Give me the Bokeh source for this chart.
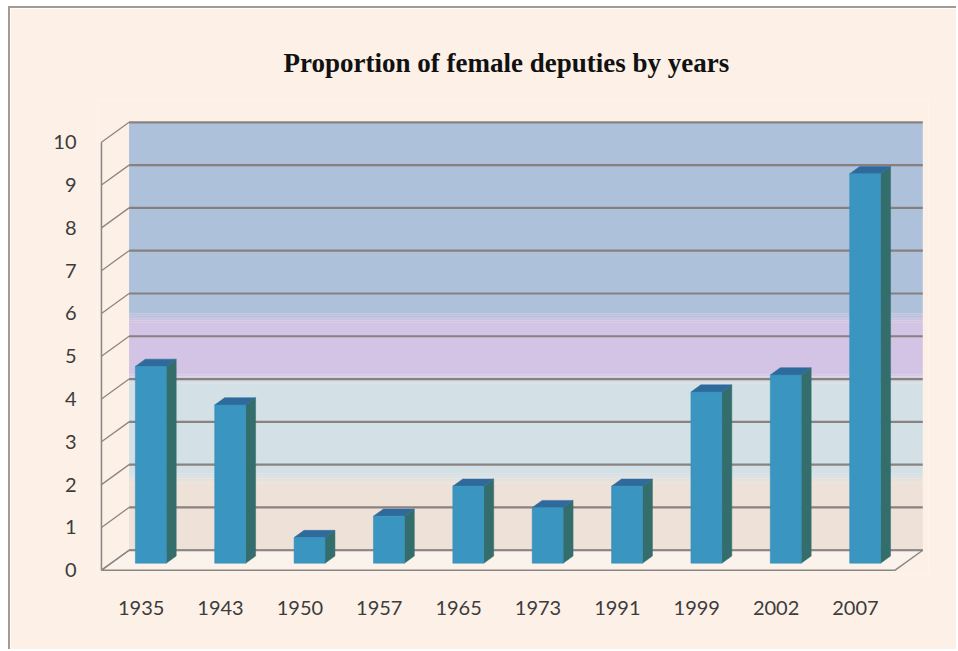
from bokeh.plotting import figure
from bokeh.models import FixedTicker, Range1d
from bokeh.embed import file_html
from bokeh.resources import INLINE

# ---------------- data ----------------
years = ["1935", "1943", "1950", "1957", "1965", "1973", "1991", "1999", "2002", "2007"]
shares = [4.6, 3.7, 0.6, 1.1, 1.8, 1.3, 1.8, 4.0, 4.4, 9.1]
y_ticks = [0, 1, 2, 3, 4, 5, 6, 7, 8, 9, 10]
title_text = "Proportion of female deputies by years"

# ---------------- styling ----------------
BG = "#FDF0E7"
DX, DY = 0.3476, 0.467          # depth offset of the back wall (data units)
BAR_Z, BAR_DEPTH, BAR_W = 0.35, 0.36, 0.39
FRONT, SIDE, TOP = "#3A96C0", "#336E6C", "#2E6A9C"
GRID = "#857C7A"
WALL_LINE = "#8C8683"
TEXT = "#3C3C3C"
# wall colour bands (value on back wall, colour)
band_edges = [0.0, 1.68, 4.02, 5.45, 10.0]
band_colors = ["#EEE1D8", "#D3E1E7", "#D3C3E4", "#AEC1DA"]

n = len(years)
wall_top = y_ticks[-1]


def hex2rgb(h):
    h = h.lstrip("#")
    return [int(h[i:i + 2], 16) for i in (0, 2, 4)]


def mix(a, b, t):
    ca, cb = hex2rgb(a), hex2rgb(b)
    return "#%02X%02X%02X" % tuple(int(round(ca[i] + (cb[i] - ca[i]) * t)) for i in range(3))


p = figure(width=948, height=643, output_backend="svg", toolbar_location=None,
           x_range=Range1d(-0.05, n + 0.42), y_range=Range1d(-0.1, 11.0),
           min_border_left=87, min_border_right=30, min_border_top=91, min_border_bottom=77,
           background_fill_color=BG, border_fill_color=BG, outline_line_color=None,
           title=title_text)
p.styles = {"margin-left": "8px", "margin-top": "6px",
            "border-left": "2px solid #A39A94", "border-top": "2px solid #A39A94"}

p.title.text_font = "Liberation Serif"
p.title.text_font_style = "bold"
p.title.text_font_size = "27px"
p.title.text_color = "#111111"
p.title.align = "left"
p.title.offset = 186
p.title.standoff = 43

p.xgrid.visible = False
p.ygrid.visible = False

# floor
fx = [0, n, n + DX, DX]
fy = [0, 0, DY, DY]
p.patch(fx, fy, fill_color="#FBF2EB", line_color=None)

# back wall bands with soft transitions
blend = 0.12
steps = 6
for i, c in enumerate(band_colors):
    b = band_edges[i] + (blend if i > 0 else 0)
    t = band_edges[i + 1] - (blend if i < len(band_colors) - 1 else 0)
    p.quad(left=DX, right=n + DX, bottom=b + DY, top=t + DY, fill_color=c, line_color=None)
for i in range(1, len(band_colors)):
    e = band_edges[i]
    lo, hi = band_colors[i - 1], band_colors[i]
    h = 2 * blend / steps
    for s in range(steps):
        p.quad(left=DX, right=n + DX, bottom=e - blend + s * h + DY, top=e - blend + (s + 1) * h + DY,
               fill_color=mix(lo, hi, (s + 0.5) / steps), line_color=None)

# back wall grid lines
p.segment(x0=[DX] * len(y_ticks), y0=[k + DY for k in y_ticks],
          x1=[n + DX] * len(y_ticks), y1=[k + DY for k in y_ticks],
          line_color=GRID, line_width=2.2, line_alpha=0.95)
# left wall
p.segment(x0=[0] * len(y_ticks), y0=y_ticks, x1=[DX] * len(y_ticks), y1=[k + DY for k in y_ticks],
          line_color=WALL_LINE, line_width=1.3)
p.segment(x0=[0], y0=[0], x1=[0], y1=[wall_top], line_color=WALL_LINE, line_width=1.5)
# floor outline
p.patch(fx, fy, fill_color=None, line_color=WALL_LINE, line_width=1.5)

# bars (front, side, top faces)
lefts = [i + 0.5 + BAR_Z * DX - BAR_W / 2 for i in range(n)]
rights = [l + BAR_W for l in lefts]
base = BAR_Z * DY
tops = [v + base for v in shares]
ddx, ddy = BAR_DEPTH * DX, BAR_DEPTH * DY
side_xs = [[r, r + ddx, r + ddx, r] for r in rights]
side_ys = [[base, base + ddy, t + ddy, t] for t in tops]
top_xs = [[l, r, r + ddx, l + ddx] for l, r in zip(lefts, rights)]
top_ys = [[t, t, t + ddy, t + ddy] for t in tops]
p.patches(side_xs, side_ys, fill_color=SIDE, line_color=SIDE, line_width=0.5)
p.patches(top_xs, top_ys, fill_color=TOP, line_color=TOP, line_width=0.5)
p.quad(left=lefts, right=rights, bottom=base, top=tops, fill_color=FRONT, line_color="#358DB6", line_width=0.5)

# axes
x_ticks = [i + 0.5 for i in range(n)]
p.xaxis.ticker = FixedTicker(ticks=x_ticks)
p.xaxis.major_label_overrides = {t: y for t, y in zip(x_ticks, years)}
p.yaxis.ticker = FixedTicker(ticks=y_ticks)
for ax in (p.xaxis, p.yaxis):
    ax.axis_line_color = None
    ax.major_tick_line_color = None
    ax.minor_tick_line_color = None
    ax.major_tick_out = 0
    ax.major_tick_in = 0
    ax.major_label_text_font = "Lato"
    ax.major_label_text_font_size = "20px"
    ax.major_label_text_color = TEXT
p.xaxis.major_label_standoff = 26
p.yaxis.major_label_standoff = 21

open("out.html", "w").write(file_html(p, INLINE))
